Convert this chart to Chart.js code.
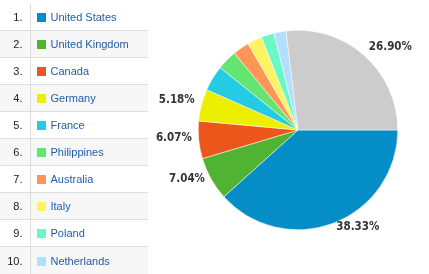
<!DOCTYPE html>
<html>
<head>
<meta charset="utf-8">
<script src="https://cdn.jsdelivr.net/npm/chart.js@4.4.0/dist/chart.umd.min.js"></script>
<style>
html,body{margin:0;padding:0;background:#fff;}
#wrap{position:relative;width:429px;height:274px;overflow:hidden;}
#myChart{position:absolute;left:0;top:0;}
#legend{position:absolute;left:0;top:4px;width:148px;}
#legend table{border-collapse:collapse;table-layout:fixed;width:148px;font-family:"Liberation Sans",Arial,sans-serif;font-size:11px;}
#legend td{height:26px;padding:0;border-bottom:1px solid #ddd;white-space:nowrap;}
#legend tr:last-child td{border-bottom:none;height:27px;}
#legend tr:nth-child(even) td{background:#f7f7f7;}
#legend td.num{width:22px;text-align:right;padding-right:7px;border-right:1px solid #ddd;color:#222;}
#legend td.name{padding-left:6px;color:#1e5eab;}
#legend span.box{display:inline-block;width:9px;height:9px;margin-right:5px;vertical-align:-1px;}
</style>
</head>
<body>
<div id="wrap">
  <canvas id="myChart" width="429" height="274"></canvas>
  <div id="legend"><table><colgroup><col style="width:30px"><col></colgroup><tbody id="legend-body"></tbody></table></div>
</div>
<script>
// countries by share of visits (%), last one is the rest
const labels = ['United States','United Kingdom','Canada','Germany','France','Philippines','Australia','Italy','Poland','Netherlands','Other'];
const shares = [38.33, 7.04, 6.07, 5.18, 4.13, 3.24, 2.66, 2.38, 2.10, 1.97, 26.90];
const colors = ['#058dc7','#50b432','#ed561b','#edef00','#24cbe5','#64e572','#ff9655','#fff263','#6af9c4','#b2deff','#cccccc'];

const tableRows = 10;   // "Other" is not listed in the table
const labelMin = 5;     // only slices of 5% or more get a label

// table on the left, built from the chart's legend items
const htmlLegend = {
  id: 'htmlLegend',
  afterUpdate(chart) {
    const items = chart.options.plugins.legend.labels.generateLabels(chart);
    const tbody = document.getElementById('legend-body');
    tbody.innerHTML = '';
    items.filter(it => it.index < tableRows).forEach(it => {
      const tr = document.createElement('tr');
      const num = document.createElement('td');
      num.className = 'num';
      num.textContent = (it.index + 1) + '.';
      const name = document.createElement('td');
      name.className = 'name';
      const box = document.createElement('span');
      box.className = 'box';
      box.style.background = it.fillStyle;
      name.appendChild(box);
      name.appendChild(document.createTextNode(it.text));
      tr.appendChild(num);
      tr.appendChild(name);
      tbody.appendChild(tr);
    });
  }
};

// percent labels outside the pie
const pctLabels = {
  id: 'pctLabels',
  afterDatasetsDraw(chart) {
    const ctx = chart.ctx;
    const meta = chart.getDatasetMeta(0);
    ctx.save();
    ctx.font = 'bold 11.5px "DejaVu Sans Condensed", "DejaVu Sans", sans-serif';
    ctx.fillStyle = '#333';
    ctx.textBaseline = 'middle';
    meta.data.forEach((arc, i) => {
      const v = shares[i];
      if (v < labelMin) return;
      const p = arc.getProps(['x', 'y', 'startAngle', 'endAngle', 'outerRadius']);
      const mid = (p.startAngle + p.endAngle) / 2;
      const r = p.outerRadius + 7;
      const x = p.x + Math.cos(mid) * r;
      const y = p.y + Math.sin(mid) * r - 3;
      ctx.textAlign = Math.cos(mid) >= 0 ? 'left' : 'right';
      ctx.fillText(v.toFixed(2) + '%', x, y);
    });
    ctx.restore();
  }
};

const ctx = document.getElementById('myChart');
const myChart = new Chart(ctx, {
  type: 'pie',
  data: {
    labels: labels,
    datasets: [{
      data: shares,
      backgroundColor: colors,
      borderColor: '#ffffff',
      borderWidth: 0.5
    }]
  },
  options: {
    responsive: false,
    animation: false,
    rotation: 90,
    layout: { padding: { left: 198, right: 31, top: 30, bottom: 44 } },
    plugins: {
      legend: { display: false },
      tooltip: { enabled: false }
    }
  },
  plugins: [htmlLegend, pctLabels]
});
</script>
</body>
</html>
